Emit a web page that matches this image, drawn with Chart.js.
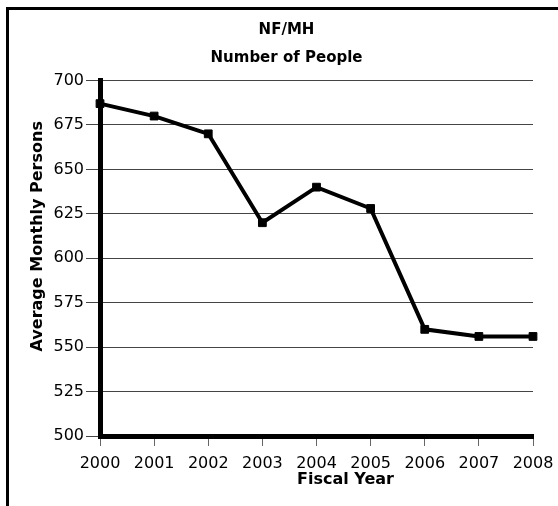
<!DOCTYPE html>
<html>
<head>
<meta charset="utf-8">
<script src="https://cdn.jsdelivr.net/npm/chart.js@4.4.0/dist/chart.umd.min.js"></script>
<style>
  html, body { margin: 0; padding: 0; background: #fff; overflow: hidden; }
  #wrap { position: relative; width: 558px; height: 506px; }
  #frame { position: absolute; left: 6px; top: 7px; width: 600px; height: 600px;
           border-top: 3px solid #000; border-left: 3px solid #000; pointer-events: none; }
  canvas { position: absolute; left: 0; top: 0; }
</style>
</head>
<body>
<div id="wrap">
  <canvas id="chart" width="558" height="506"></canvas>
  <div id="frame"></div>
</div>
<script>
const years = ['2000', '2001', '2002', '2003', '2004', '2005', '2006', '2007', '2008'];
const persons = [687, 680, 670, 620, 640, 628, 560, 556, 556];
const titleLines = ['NF/MH', 'Number of People'];
const xTitle = 'Fiscal Year';
const yTitle = 'Average Monthly Persons';
const yMin = 500;
const yMax = 700;
const yStep = 25;

const FONT = "'DejaVu Sans', sans-serif";

// axis titles sit off-centre in the original, so draw them by hand
const axisTitles = {
  id: 'axisTitles',
  afterDraw(chart) {
    const { ctx, chartArea } = chart;
    ctx.save();
    ctx.fillStyle = '#000';
    ctx.font = `bold 16px ${FONT}`;
    ctx.textAlign = 'center';
    ctx.textBaseline = 'middle';
    ctx.fillText(xTitle, (chartArea.left + chartArea.right) / 2 + 29, chartArea.bottom + 44);
    ctx.translate(chartArea.left - 62, (chartArea.top + chartArea.bottom) / 2 - 22);
    ctx.rotate(-Math.PI / 2);
    ctx.fillText(yTitle, 0, 0);
    ctx.restore();
  }
};

new Chart(document.getElementById('chart'), {
  type: 'line',
  data: {
    labels: years,
    datasets: [{
      data: persons,
      borderColor: '#000',
      backgroundColor: '#000',
      borderWidth: 4,
      pointStyle: 'rect',
      pointRadius: 5.5,
      pointBorderWidth: 1,
      tension: 0,
    }],
  },
  options: {
    responsive: false,
    animation: false,
    layout: { padding: { left: 40, right: 25, top: 0, bottom: 0 } },
    plugins: {
      legend: { display: false },
      tooltip: { enabled: false },
      title: {
        display: true,
        text: titleLines,
        color: '#000',
        font: { family: FONT, size: 15, weight: 'bold', lineHeight: 1.867 },
        padding: { top: 16, bottom: 8.5 },
      },
    },
    scales: {
      x: {
        offset: false,
        afterFit: (s) => { s.height = 70; s.paddingRight = 0; s.paddingLeft = 0; },
        border: { display: true, color: '#000', width: 5 },
        grid: { drawOnChartArea: false, drawTicks: true, tickLength: 10, color: '#666' },
        ticks: { color: '#000', font: { family: FONT, size: 16 }, padding: 8, maxRotation: 0, autoSkip: false },
      },
      y: {
        min: yMin,
        max: yMax,
        afterFit: (s) => { s.width = 60; },
        border: { display: true, color: '#000', width: 5 },
        grid: { drawTicks: true, tickLength: 14, color: '#444' },
        ticks: { stepSize: yStep, color: '#000', font: { family: FONT, size: 16 }, padding: 2 },
      },
    },
  },
  plugins: [axisTitles],
});
</script>
</body>
</html>
